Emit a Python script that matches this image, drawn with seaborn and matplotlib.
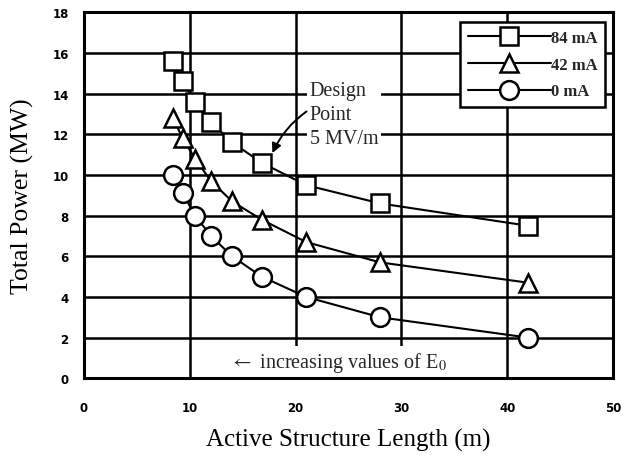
import numpy as np
import pandas as pd
import matplotlib
matplotlib.use("Agg")
import matplotlib.pyplot as plt
from matplotlib.lines import Line2D
import seaborn as sns

# ---- data ----
length_m = [8.4, 9.33, 10.5, 12.0, 14.0, 16.8, 21.0, 28.0, 42.0]
power_84mA = [15.6, 14.6, 13.6, 12.6, 11.6, 10.6, 9.5, 8.6, 7.5]
power_42mA = [12.8, 11.8, 10.8, 9.7, 8.7, 7.8, 6.7, 5.7, 4.7]
power_0mA = [10.0, 9.1, 8.0, 7.0, 6.0, 5.0, 4.0, 3.0, 2.0]
series_labels = ["84 mA", "42 mA", "0 mA"]
x_ticks = [0, 10, 20, 30, 40, 50]
y_ticks = [0, 2, 4, 6, 8, 10, 12, 14, 16, 18]

df = pd.concat([
    pd.DataFrame({"length": length_m, "power": vals, "current": lab})
    for vals, lab in zip([power_84mA, power_42mA, power_0mA], series_labels)
], ignore_index=True)

sns.set_theme(style="white")
serif = ["Liberation Serif", "DejaVu Serif"]
plt.rcParams["mathtext.fontset"] = "stix"

fig = plt.figure(figsize=(6.22, 4.6), dpi=100)
ax = fig.add_axes([84 / 622, 1 - 379.3 / 460, 529 / 622, 366 / 460])

markers = {"84 mA": "s", "42 mA": "^", "0 mA": "o"}
sns.lineplot(data=df, x="length", y="power", style="current",
             markers=markers, dashes=False, color="black", sort=False,
             linewidth=1.5, markersize=13.5, markeredgewidth=1.8,
             markeredgecolor="black", markerfacecolor="white",
             legend=False, ax=ax, zorder=4)
for ln in ax.lines:
    ln.set_markerfacecolor("white")
    ln.set_markeredgecolor("black")
    ln.set_clip_on(False)

ax.set_xlim(0, 50)
ax.set_ylim(0, 18)
ax.set_xticks(x_ticks)
ax.set_yticks(y_ticks)
ax.set_xticklabels([str(t) for t in x_ticks])
ax.set_yticklabels([str(t) for t in y_ticks])
ax.tick_params(length=0)
ax.tick_params(axis="y", pad=11)
ax.tick_params(axis="x", pad=16.5)
for lab in ax.get_xticklabels() + ax.get_yticklabels():
    lab.set_fontfamily("DejaVu Sans")
    lab.set_fontweight("bold")
    lab.set_fontsize(8.5)
    lab.set_color("black")

ax.set_axisbelow(True)
ax.grid(True, color="black", linewidth=1.8)
for sp in ax.spines.values():
    sp.set_visible(True)
    sp.set_color("black")
    sp.set_linewidth(2.2)
    sp.set_zorder(3.5)

ax.set_xlabel("Active Structure Length (m)", family=serif, fontsize=18,
              color="black", va="center")
ax.set_ylabel("Total Power (MW)", family=serif, fontsize=18.5,
              color="black", va="center")
ax.xaxis.set_label_coords(0.5, (379.3 - 440) / 366)
ax.yaxis.set_label_coords((22 - 84) / 529, 0.5)

# design point annotation
ax.text(21.35, 14.6, "Design\nPoint\n5 MV/m", family=serif, fontsize=14.5,
        ha="left", va="top", linespacing=1.35, zorder=3,
        bbox=dict(facecolor="white", edgecolor="none", pad=2))
ax.annotate("", xy=(17.7, 10.95), xytext=(21.25, 13.2),
            arrowprops=dict(arrowstyle="-|>", color="black", lw=1.4,
                            mutation_scale=14,
                            connectionstyle="arc3,rad=0.15"),
            zorder=5)

ax.text(13.8, 0.8, r"$\leftarrow$ increasing values of E$_0$", family=serif,
        fontsize=14.5, ha="left", va="center", zorder=3,
        bbox=dict(facecolor="white", edgecolor="none", pad=3))

handles = [Line2D([], [], color="black", lw=1.5, marker=markers[l],
                  markersize=13.5, markeredgewidth=1.8, markerfacecolor="white",
                  markeredgecolor="black") for l in series_labels]
leg = ax.legend(handles, series_labels, loc="upper right",
                bbox_to_anchor=(0.985, 0.973), borderaxespad=0,
                handlelength=5.0, handletextpad=0, labelspacing=0.65,
                borderpad=0.45, frameon=True, fancybox=False, framealpha=1,
                prop={"family": serif, "weight": "bold", "size": 12})
leg.get_frame().set_edgecolor("black")
leg.get_frame().set_linewidth(1.8)
leg.set_zorder(6)

fig.savefig("out.png", dpi=100)
